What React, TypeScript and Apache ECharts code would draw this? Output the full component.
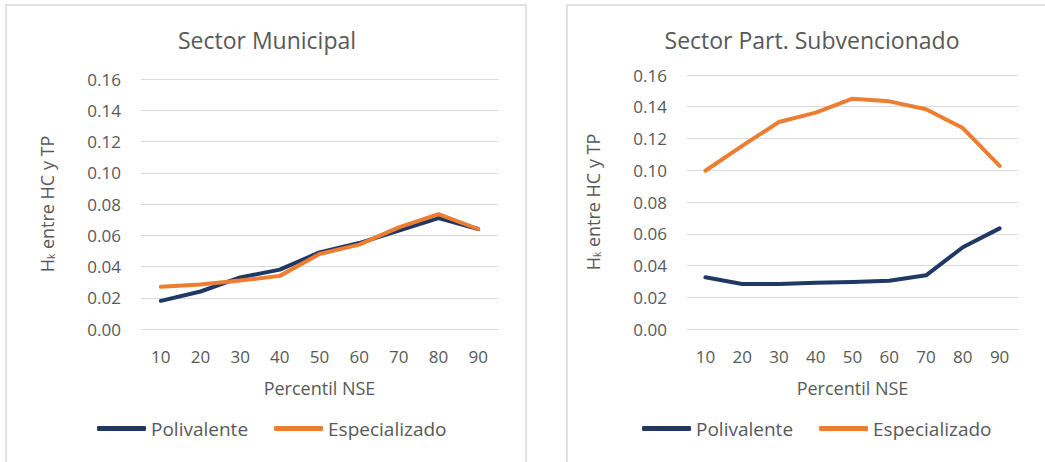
import React, { useEffect, useRef } from "react";
import * as echarts from "echarts";

const categories = ["10", "20", "30", "40", "50", "60", "70", "80", "90"];
const seriesNames = ["Polivalente", "Especializado"];
const municipalPolivalente = [0.018, 0.024, 0.033, 0.038, 0.049, 0.055, 0.063, 0.071, 0.064];
const municipalEspecializado = [0.027, 0.0285, 0.031, 0.034, 0.048, 0.054, 0.065, 0.0735, 0.064];
const subvPolivalente = [0.0326, 0.0283, 0.0283, 0.0292, 0.0296, 0.0304, 0.0338, 0.0515, 0.0634];
const subvEspecializado = [0.0997, 0.1153, 0.1304, 0.1363, 0.1451, 0.1434, 0.1384, 0.1266, 0.1027];
const titles = ["Sector Municipal", "Sector Part. Subvencionado"];
const yMin = 0;
const yMax = 0.16;
const yStep = 0.02;

const FONT = "'Open Sans', sans-serif";
const TXT = "#595959";
const GRID = "#d9d9d9";
const BLUE = "#203864";
const ORANGE = "#ed7d31";

export default function App() {
  const ref = useRef<HTMLDivElement>(null);
  useEffect(() => {
    if (!ref.current) return;
    const chart = echarts.init(ref.current, undefined, { renderer: "svg" });
    const grids = [
      { left: 141, right: 547, top: 79, bottom: 133 },
      { left: 687, right: 27, top: 75, bottom: 133 },
    ];
    const xAxis = grids.map((_, i) => ({
      type: "category",
      gridIndex: i,
      data: categories,
      boundaryGap: true,
      axisLine: { show: true, lineStyle: { color: GRID, width: 1 } },
      axisTick: { show: false },
      axisLabel: { color: TXT, fontFamily: FONT, fontSize: 17, margin: 19 },
      name: "Percentil NSE",
      nameLocation: "middle",
      nameGap: 50,
      nameTextStyle: { color: TXT, fontFamily: FONT, fontSize: 18 },
    }));
    const yAxis = grids.map((_, i) => ({
      type: "value",
      gridIndex: i,
      min: yMin,
      max: yMax,
      interval: yStep,
      axisLine: { show: false },
      axisTick: { show: false },
      splitLine: { show: true, lineStyle: { color: GRID, width: 1 } },
      axisLabel: {
        color: TXT,
        fontFamily: FONT,
        fontSize: 17,
        margin: 20,
        formatter: (v: number) => v.toFixed(2),
      },
      name: "{h|H}{s|k} {h|entre HC y TP}",
      nameLocation: "middle",
      nameGap: i === 0 ? 85 : 85,
      nameRotate: 90,
      nameTextStyle: {
        color: TXT,
        fontFamily: FONT,
        fontSize: 18,
        rich: {
          h: { color: TXT, fontFamily: FONT, fontSize: 18 },
          s: { color: TXT, fontFamily: FONT, fontSize: 10, verticalAlign: "bottom", padding: [8, 0, 0, 0] },
        },
      },
    }));
    const lineSeries = (name: string, data: number[], idx: number, color: string) => ({
      type: "line",
      name,
      data,
      xAxisIndex: idx,
      yAxisIndex: idx,
      symbol: "none",
      lineStyle: { color, width: 4, cap: "round", join: "round" },
      itemStyle: { color },
    });
    const legendBase = {
      data: seriesNames,
      top: 419,
      padding: 0,
      itemWidth: 49,
      itemHeight: 5,
      icon: "roundRect",
      itemGap: 26,
      textStyle: { color: TXT, fontFamily: FONT, fontSize: 19 },
    };
    chart.setOption({
      animation: false,
      backgroundColor: "#ffffff",
      grid: grids,
      xAxis,
      yAxis,
      legend: [
        { ...legendBase, left: 97 },
        { ...legendBase, left: 642 },
      ],
      series: [
        lineSeries(seriesNames[0], municipalPolivalente, 0, BLUE),
        lineSeries(seriesNames[1], municipalEspecializado, 0, ORANGE),
        lineSeries(seriesNames[0], subvPolivalente, 1, BLUE),
        lineSeries(seriesNames[1], subvEspecializado, 1, ORANGE),
      ],
      graphic: [
        {
          type: "rect",
          shape: { x: 6, y: 5, width: 520, height: 480 },
          style: { fill: "none", stroke: GRID, lineWidth: 1.5 },
          silent: true,
        },
        {
          type: "rect",
          shape: { x: 567, y: 5, width: 500, height: 480 },
          style: { fill: "none", stroke: GRID, lineWidth: 1.5 },
          silent: true,
        },
        {
          type: "text",
          x: 267,
          y: 40,
          style: {
            text: titles[0],
            fill: TXT,
            font: `23px ${FONT}`,
            textAlign: "center",
            textVerticalAlign: "middle",
          },
        },
        {
          type: "text",
          x: 812,
          y: 40,
          style: {
            text: titles[1],
            fill: TXT,
            font: `23px ${FONT}`,
            textAlign: "center",
            textVerticalAlign: "middle",
          },
        },
      ],
    });
    return () => chart.dispose();
  }, []);
  return (
    <div
      ref={ref}
      style={{ position: "fixed", left: 0, top: 0, width: 1045, height: 462 }}
    />
  );
}
